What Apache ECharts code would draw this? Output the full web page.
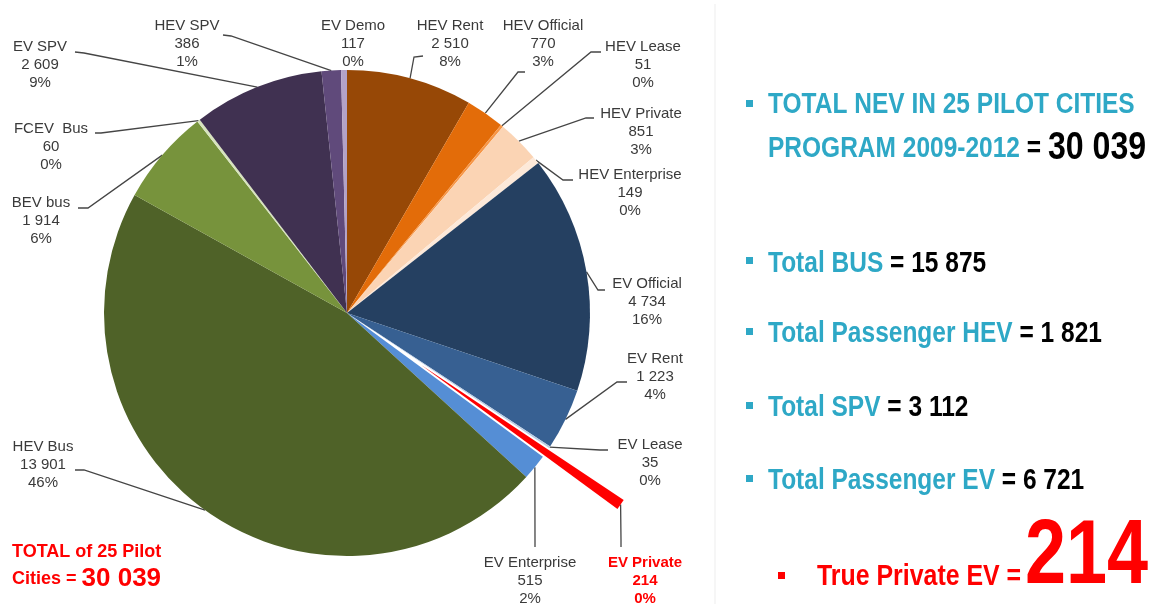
<!DOCTYPE html>
<html>
<head>
<meta charset="utf-8">
<script src="https://cdn.jsdelivr.net/npm/echarts@6/dist/echarts.min.js"></script>
<style>
html,body{margin:0;padding:0;background:#ffffff;}
#chart{width:1153px;height:608px;}
</style>
</head>
<body>
<div id="chart"></div>
<script>
// ---------------- DATA ----------------
const categories = ['HEV Rent','HEV Official','HEV Lease','HEV Private','HEV Enterprise',
  'EV Official','EV Rent','EV Lease','EV Private','EV Enterprise',
  'HEV Bus','BEV bus','FCEV  Bus','EV SPV','HEV SPV','EV Demo'];
const vehicles = [2510, 770, 51, 851, 149, 4734, 1223, 35, 214, 515, 13901, 1914, 60, 2609, 386, 117];
// shares (%) as printed on the slice labels
const shares = [8, 3, 0, 3, 0, 16, 4, 0, 0, 2, 46, 6, 0, 9, 1, 0];
const highlighted = 'EV Private';
const pilotCities = 25;
const programYears = '2009-2012';
const summaryLabels = ['Total BUS', 'Total Passenger HEV', 'Total SPV', 'Total Passenger EV'];
const summaryValues = [15875, 1821, 3112, 6721];
const truePrivateLabel = 'True Private EV';
const truePrivateValue = 214;

// ---------------- STYLES / LAYOUT ----------------
const sliceColors = ['#974806','#E36C09','#F79646','#FBD4B4','#FDE9D9',
  '#254061','#376092','#B9CDE5','#FF0000','#558ED5',
  '#4F6228','#77933C','#D7E4BD','#403151','#604A7B','#B3A2C7'];
const CX = 347, CY = 313, R = 243, OFFSET = 91;
// label centre x, y, line end x, y, elbow x, y
const labelBoxes = [
  [450, 44, 423, 56, 414, 57],
  [543, 44, 525, 72, 518, 72],
  [643, 65, 601, 52, 591, 52],
  [641, 132, 594, 118, 586, 118],
  [630, 193, 573, 180, 563, 180],
  [647, 302, 605, 290, 598, 290],
  [655, 377, 627, 382, 617, 382],
  [650, 463, 608, 450, 600, 450],
  [645, 581, 621, 547, 621, 540],
  [530, 581, 535, 547, 535, 540],
  [43, 465, 75, 470, 84, 470],
  [41, 221, 78, 208, 88, 208],
  [51, 147, 95, 133, 101, 133],
  [40, 65, 75, 52, 84, 53],
  [187, 44, 223, 35, 231, 36],
  [353, 44]
];
const TEAL = '#2EA8C6';
const RED = '#FF0000';
const LABEL_FONT = '"Liberation Sans", Arial, sans-serif';

// ---------------- HELPERS ----------------
const total = vehicles.reduce((a, b) => a + b, 0);
function fmt(v) { return String(v).replace(/\B(?=(\d{3})+(?!\d))/g, ' '); }
function midAngle(i) {
  let before = 0;
  for (let k = 0; k < i; k++) before += vehicles[k];
  return (before + vehicles[i] / 2) / total * Math.PI * 2;
}

const mainData = categories.map((name, i) => {
  const item = {
    name: name,
    value: vehicles[i],
    itemStyle: { color: name === highlighted ? 'rgba(0,0,0,0)' : sliceColors[i] }
  };
  if (name === highlighted) item.label = { color: RED, fontWeight: 'bold' };
  if (labelBoxes[i].length < 6) item.labelLine = { show: false };
  return item;
});
const explodedData = categories.map((name, i) => ({
  name: name,
  value: vehicles[i],
  selected: name === highlighted,
  itemStyle: { color: name === highlighted ? sliceColors[i] : 'rgba(0,0,0,0)' }
}));

const graphics = [
  { type: 'line', shape: { x1: 715, y1: 4, x2: 715, y2: 604 }, style: { stroke: '#EDEDED', lineWidth: 1 } },
  // bullets
  { type: 'rect', shape: { x: 746, y: 100, width: 7, height: 7 }, style: { fill: TEAL } },
  { type: 'rect', shape: { x: 746, y: 257, width: 7, height: 7 }, style: { fill: TEAL } },
  { type: 'rect', shape: { x: 746, y: 328, width: 7, height: 7 }, style: { fill: TEAL } },
  { type: 'rect', shape: { x: 746, y: 402, width: 7, height: 7 }, style: { fill: TEAL } },
  { type: 'rect', shape: { x: 746, y: 475, width: 7, height: 7 }, style: { fill: TEAL } },
  { type: 'rect', shape: { x: 778, y: 572, width: 7, height: 7 }, style: { fill: RED } },
  // headline
  { type: 'text', x: 768, y: 105, scaleX: 0.845,
    style: { text: 'TOTAL NEV IN ' + pilotCities + ' PILOT CITIES', font: 'bold 29px ' + LABEL_FONT,
      fill: TEAL, align: 'left', verticalAlign: 'middle' } },
  { type: 'text', x: 768, y: 149, scaleX: 0.845,
    style: { text: '{t|PROGRAM ' + programYears + '} {b|=} {n|' + fmt(total) + '}',
      font: 'bold 29px ' + LABEL_FONT, fill: '#000', align: 'left', verticalAlign: 'middle',
      rich: {
        t: { font: 'bold 29px ' + LABEL_FONT, fill: TEAL },
        b: { font: 'bold 29px ' + LABEL_FONT, fill: '#000' },
        n: { font: 'bold 38px ' + LABEL_FONT, fill: '#000' }
      } } },
  // bottom-left total
  { type: 'text', x: 12, y: 552,
    style: { text: 'TOTAL of ' + pilotCities + ' Pilot', font: 'bold 18px ' + LABEL_FONT, fill: RED,
      align: 'left', verticalAlign: 'middle' } },
  { type: 'text', x: 12, y: 579,
    style: { text: '{a|Cities = }{b|' + fmt(total) + '}', font: 'bold 18px ' + LABEL_FONT, fill: RED,
      align: 'left', verticalAlign: 'middle',
      rich: { a: { font: 'bold 18px ' + LABEL_FONT, fill: RED }, b: { font: 'bold 26px ' + LABEL_FONT, fill: RED } } } },
  // true private EV
  { type: 'text', x: 817, y: 577, scaleX: 0.83,
    style: { text: truePrivateLabel + ' =', font: 'bold 30px ' + LABEL_FONT, fill: RED,
      align: 'left', verticalAlign: 'middle' } },
  { type: 'text', x: 1025, y: 558, scaleX: 0.82,
    style: { text: String(truePrivateValue), font: 'bold 90px ' + LABEL_FONT, fill: RED,
      align: 'left', verticalAlign: 'middle' } }
];
const summaryY = [264, 334, 408, 481];
summaryLabels.forEach((lab, i) => {
  graphics.push({ type: 'text', x: 768, y: summaryY[i], scaleX: 0.845,
    style: { text: '{t|' + lab + '}{b| = ' + fmt(summaryValues[i]) + '}',
      font: 'bold 29px ' + LABEL_FONT, align: 'left', verticalAlign: 'middle',
      rich: { t: { font: 'bold 29px ' + LABEL_FONT, fill: TEAL }, b: { font: 'bold 29px ' + LABEL_FONT, fill: '#000' } } } });
});

const chart = echarts.init(document.getElementById('chart'), null, { renderer: 'canvas' });
chart.setOption({
  animation: false,
  backgroundColor: '#ffffff',
  series: [
    {
      type: 'pie',
      center: [CX, CY],
      radius: R,
      startAngle: 90,
      clockwise: true,
      avoidLabelOverlap: false,
      silent: true,
      itemStyle: { borderWidth: 0 },
      label: {
        show: true,
        position: 'outside',
        color: '#3A3A3A',
        fontFamily: LABEL_FONT,
        fontSize: 15,
        lineHeight: 18,
        formatter: function (p) {
          return p.name + '\n' + fmt(p.value) + '\n' + shares[p.dataIndex] + '%';
        }
      },
      labelLine: { show: true, length: 10, length2: 10, lineStyle: { color: '#454545', width: 1.3 } },
      labelLayout: function (p) {
        const box = labelBoxes[p.dataIndex];
        const out = { x: box[0], y: box[1], align: 'center', verticalAlign: 'middle' };
        if (box.length >= 6) {
          const a = midAngle(p.dataIndex);
          const rr = R + (categories[p.dataIndex] === highlighted ? OFFSET : 0);
          out.labelLinePoints = [
            [CX + rr * Math.sin(a), CY - rr * Math.cos(a)],
            [box[4], box[5]],
            [box[2], box[3]]
          ];
        }
        return out;
      },
      data: mainData
    },
    {
      type: 'pie',
      center: [CX, CY],
      radius: R,
      startAngle: 90,
      clockwise: true,
      silent: true,
      z: 3,
      selectedMode: 'single',
      selectedOffset: OFFSET,
      select: { itemStyle: { borderWidth: 0 } },
      label: { show: false },
      labelLine: { show: false },
      itemStyle: { borderWidth: 0 },
      data: explodedData
    }
  ],
  graphic: graphics
});
</script>
</body>
</html>
